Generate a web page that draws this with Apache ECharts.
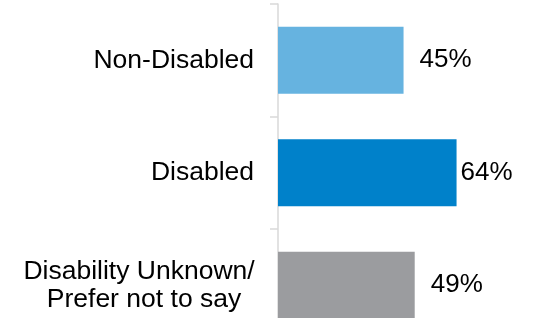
<!DOCTYPE html>
<html>
<head>
<meta charset="utf-8">
<script src="https://cdn.jsdelivr.net/npm/echarts@6/dist/echarts.min.js"></script>
<style>
  html, body { margin: 0; padding: 0; background: #fff; }
  #main { width: 533px; height: 318px; }
</style>
</head>
<body>
<div id="main"></div>
<script>
const categories = ['Non-Disabled', 'Disabled', 'Disability Unknown/\nPrefer not to say'];
const values = [45, 64, 49];
const barColors = ['#66B3E0', '#0081CA', '#9B9C9F'];
const labelGaps = [16, 4, 16];

const chart = echarts.init(document.getElementById('main'), null, { renderer: 'canvas' });

const option = {
  animation: false,
  textStyle: { fontFamily: 'Liberation Sans, Arial, sans-serif' },
  grid: { left: 278, top: 4, width: 279, height: 337.5, containLabel: false, outerBoundsMode: 'none' },
  xAxis: {
    type: 'value',
    min: 0,
    max: 100,
    show: false
  },
  yAxis: {
    type: 'category',
    inverse: true,
    data: categories,
    axisLine: { show: true, lineStyle: { color: '#D9D9D9', width: 1.5 } },
    axisTick: { show: true, length: 8, lineStyle: { color: '#D9D9D9', width: 1.5 } },
    splitLine: { show: false },
    axisLabel: {
      margin: 24,
      color: '#000',
      fontSize: 26.5,
      lineHeight: 28,
      align: 'right',
      // multi-line label: centre each line inside its block
      formatter: v => {
        if (v.indexOf('\n') < 0) return v;
        const parts = v.split('\n');
        return '{a|' + parts[0] + '}\n{b|' + parts[1] + '}';
      },
      rich: {
        a: { width: 230, align: 'center', fontSize: 26.5, lineHeight: 28, color: '#000' },
        b: { width: 220, padding: [0, 0, 0, 10], align: 'center', fontSize: 26.5, lineHeight: 28, color: '#000' }
      }
    }
  },
  series: [{
    type: 'bar',
    barWidth: 67,
    data: values.map((v, i) => ({
      value: v,
      itemStyle: { color: barColors[i] },
      label: { distance: labelGaps[i] }
    })),
    label: {
      show: true,
      position: 'right',
      color: '#000',
      fontSize: 26,
      formatter: p => p.value + '%'
    }
  }]
};

chart.setOption(option);
</script>
</body>
</html>
